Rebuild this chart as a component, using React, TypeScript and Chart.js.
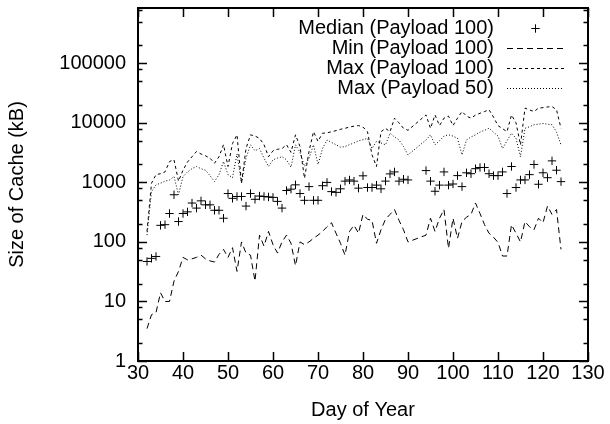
import React, { useEffect, useRef } from 'react';
import { Chart, registerables } from 'chart.js';

Chart.register(...registerables);

const FONT_FAMILY = "'Liberation Sans', Arial, Helvetica, sans-serif";
const FONT_SIZE = 20;

// Day of year for every sample (no samples on days 91-93)
const days = [
  32, 33, 34, 35, 36, 37, 38, 39, 40, 41,
  42, 43, 44, 45, 46, 47, 48, 49, 50, 51,
  52, 53, 54, 55, 56, 57, 58, 59, 60, 61,
  62, 63, 64, 65, 66, 67, 68, 69, 70, 71,
  72, 73, 74, 75, 76, 77, 78, 79, 80, 81,
  82, 83, 84, 85, 86, 87, 88, 89, 90,
  94, 95, 96, 97, 98, 99, 100, 101, 102, 103,
  104, 105, 106, 107, 108, 109, 110, 111, 112, 113,
  114, 115, 116, 117, 118, 119, 120, 121, 122, 123, 124,
];

const medianPayload100 = [
  47, 53, 57, 190, 195, 300, 620, 220, 300, 320,
  450, 370, 490, 420, 420, 340, 340, 250, 650, 540,
  580, 580, 400, 650, 520, 590, 580, 570, 560, 480,
  370, 730, 770, 910, 650, 500, 850, 500, 500, 880,
  1000, 700, 680, 780, 1050, 1100, 1050, 800, 1290, 820,
  820, 900, 780, 1050, 1390, 1500, 1050, 1130, 1100,
  1580, 1050, 710, 900, 1500, 900, 940, 1300, 850, 1450,
  1400, 1700, 1780, 1780, 1400, 1300, 1300, 1500, 650, 1850,
  820, 1100, 1100, 1350, 2000, 930, 1450, 1200, 2300, 1600, 1030,
];

const minPayload100 = [
  3.5, 6, 6.5, 14, 10, 10, 22, 32, 55, 50,
  52, 55, 60, 52, 48, 46, 62, 75, 55, 80,
  32, 100, 65, 60, 22, 130, 85, 150, 90, 65,
  100, 130, 95, 40, 100, 90, 100, 115, 130, 150,
  180, 210, 140, 95, 60, 150, 190, 140, 290, 240,
  230, 95, 160, 240, 290, 350, 230, 160, 100,
  130, 250, 150, 250, 350, 78, 250, 115, 220, 260,
  290, 450, 300, 195, 140, 120, 98, 58, 58, 195,
  140, 100, 220, 180, 160, 250, 210, 400, 290, 350, 75,
];

const maxPayload100 = [
  150, 970, 1350, 1400, 1500, 2240, 2400, 1050, 1600, 2200,
  2700, 3300, 3000, 2800, 2550, 2100, 2700, 4300, 1850, 4500,
  6300, 970, 3700, 6300, 6000, 5500, 4300, 2700, 3400, 3600,
  3700, 4300, 3200, 6300, 4000, 1170, 3300, 7100, 4900, 6700,
  6800, 7100, 7400, 7800, 8100, 8500, 8800, 9000, 8500, 7100,
  2900, 1850, 7100, 8100, 7100, 12000, 10000, 8100, 7500,
  13600, 8100, 13600, 9000, 12000, 13000, 9000, 12000, 15500, 13000,
  12000, 13500, 14500, 15500, 16600, 12500, 9000, 8000, 7100, 13600,
  10000, 4270, 17700, 16500, 15500, 17700, 18000, 18500, 18800, 16600, 8100,
];

const maxPayload50 = [
  130, 700, 910, 970, 1050, 1100, 1250, 620, 1250, 1500,
  1700, 1850, 1700, 1600, 1300, 1030, 1350, 2240, 1350, 1200,
  3000, 970, 2550, 4270, 3400, 3700, 2550, 1850, 2400, 2550,
  2700, 2400, 1800, 4270, 3200, 1850, 2550, 4270, 2000, 3700,
  5150, 4700, 4300, 3900, 4000, 4300, 4600, 5000, 5200, 5500,
  3700, 4900, 4600, 4270, 6700, 5800, 5150, 4000, 2900,
  5150, 6300, 4270, 5000, 6000, 6300, 6000, 5500, 2900, 5150,
  5800, 6300, 7000, 7500, 8100, 7000, 6000, 3700, 5000, 6700,
  5500, 2700, 8100, 8600, 9300, 9500, 9800, 9500, 9300, 7000, 4270,
];

const seriesLabels = [
  'Median (Payload 100)',
  'Min (Payload 100)',
  'Max (Payload 100)',
  'Max (Payload 50)',
];

const xTickValues = [30, 40, 50, 60, 70, 80, 90, 100, 110, 120, 130];
const yLabelTicks = [1, 10, 100, 1000, 10000, 100000];
const yMinorFactors = [2, 5, 8];
const xTitle = 'Day of Year';
const yTitle = 'Size of Cache (kB)';

const toPoints = (vals: number[]) => days.map((d, i) => ({ x: d, y: vals[i] }));

const gnuplotFrame = {
  id: 'gnuplotFrame',
  afterDraw(chart: any) {
    const { ctx, chartArea } = chart;
    const { left, right, top, bottom } = chartArea;
    const xs = chart.scales.x;
    const ys = chart.scales.y;
    ctx.save();
    ctx.strokeStyle = '#000';
    ctx.lineWidth = 1.5;
    ctx.beginPath();
    const major = 9;
    const minor = 4.5;
    for (const v of xTickValues) {
      const px = Math.round(xs.getPixelForValue(v)) + 0.5;
      ctx.moveTo(px, bottom);
      ctx.lineTo(px, bottom - major);
      ctx.moveTo(px, top);
      ctx.lineTo(px, top + major);
    }
    for (let e = 0; e <= 6; e++) {
      const base = Math.pow(10, e);
      const vals: [number, number][] = [[base, major]];
      for (const f of yMinorFactors) vals.push([base * f, minor]);
      for (const [v, len] of vals) {
        if (v < ys.min || v > ys.max) continue;
        const py = Math.round(ys.getPixelForValue(v)) + 0.5;
        ctx.moveTo(left, py);
        ctx.lineTo(left + len, py);
        ctx.moveTo(right, py);
        ctx.lineTo(right - len, py);
      }
    }
    ctx.stroke();
    ctx.lineWidth = 2;
    ctx.strokeRect(left, top, right - left, bottom - top);

    // key
    ctx.font = `${FONT_SIZE}px ${FONT_FAMILY}`;
    ctx.fillStyle = '#000';
    ctx.textAlign = 'right';
    ctx.textBaseline = 'middle';
    const textRight = 494;
    const sampleL = 507;
    const sampleR = 564;
    chart.data.datasets.forEach((ds: any, i: number) => {
      const ry = 28.5 + i * 20;
      ctx.fillText(ds.label, textRight, ry);
      ctx.lineWidth = 1;
      if (ds.showLine === false) {
        const cx = (sampleL + sampleR) / 2;
        const r = ds.pointRadius;
        ctx.setLineDash([]);
        ctx.beginPath();
        ctx.moveTo(cx - r, ry);
        ctx.lineTo(cx + r, ry);
        ctx.moveTo(cx, ry - r);
        ctx.lineTo(cx, ry + r);
        ctx.stroke();
      } else {
        ctx.setLineDash(ds.borderDash || []);
        ctx.beginPath();
        ctx.moveTo(sampleL, ry);
        ctx.lineTo(sampleR, ry);
        ctx.stroke();
        ctx.setLineDash([]);
      }
    });
    ctx.restore();
  },
};

export default function App() {
  const canvasRef = useRef<HTMLCanvasElement | null>(null);

  useEffect(() => {
    const canvas = canvasRef.current;
    if (!canvas) return;
    const font = { family: FONT_FAMILY, size: FONT_SIZE };
    const chart = new Chart(canvas, {
      type: 'line',
      data: {
        datasets: [
          {
            label: seriesLabels[0],
            data: toPoints(medianPayload100),
            showLine: false,
            pointStyle: 'cross',
            pointRadius: 4.2,
            pointBorderWidth: 1,
            borderColor: '#000',
            backgroundColor: '#000',
          },
          {
            label: seriesLabels[1],
            data: toPoints(minPayload100),
            borderColor: '#000',
            borderWidth: 1,
            borderDash: [6, 4],
            pointRadius: 0,
            tension: 0,
            fill: false,
          },
          {
            label: seriesLabels[2],
            data: toPoints(maxPayload100),
            borderColor: '#000',
            borderWidth: 1,
            borderDash: [3, 3],
            pointRadius: 0,
            tension: 0,
            fill: false,
          },
          {
            label: seriesLabels[3],
            data: toPoints(maxPayload50),
            borderColor: '#000',
            borderWidth: 1,
            borderDash: [1, 2],
            pointRadius: 0,
            tension: 0,
            fill: false,
          },
        ] as any,
      },
      options: {
        responsive: false,
        animation: false,
        events: [],
        layout: { padding: { top: 8, right: 22, left: 0, bottom: 0 } },
        plugins: {
          legend: { display: false },
          tooltip: { enabled: false },
        },
        scales: {
          x: {
            type: 'linear',
            min: 30,
            max: 130,
            afterBuildTicks: (s: any) => {
              s.ticks = xTickValues.map((v) => ({ value: v }));
            },
            afterFit: (s: any) => {
              s.height = 63;
              s.paddingLeft = 0;
              s.paddingRight = 0;
            },
            grid: { display: false, drawTicks: false },
            border: { display: false },
            ticks: {
              font,
              color: '#000',
              padding: 0,
              maxRotation: 0,
              autoSkip: false,
              callback: (v: any) => String(v),
            },
            title: {
              display: true,
              text: xTitle,
              font,
              color: '#000',
              padding: { top: 0, bottom: 2 },
            },
          },
          y: {
            type: 'logarithmic',
            min: 1,
            max: 850000,
            afterBuildTicks: (s: any) => {
              s.ticks = yLabelTicks.map((v) => ({ value: v }));
            },
            afterFit: (s: any) => {
              s.width = 138;
              s.paddingTop = 0;
              s.paddingBottom = 0;
            },
            grid: { display: false, drawTicks: false },
            border: { display: false },
            ticks: {
              font,
              color: '#000',
              padding: 12,
              autoSkip: false,
              callback: (v: any) => String(v),
            },
            title: {
              display: true,
              text: yTitle,
              font,
              color: '#000',
              padding: { top: 5, bottom: 0 },
            },
          },
        },
      } as any,
      plugins: [gnuplotFrame],
    });
    return () => chart.destroy();
  }, []);

  return (
    <div style={{ position: 'fixed', left: 0, top: 0, width: 610, height: 424, background: '#fff' }}>
      <canvas ref={canvasRef} width={610} height={424} style={{ display: 'block' }} />
    </div>
  );
}
